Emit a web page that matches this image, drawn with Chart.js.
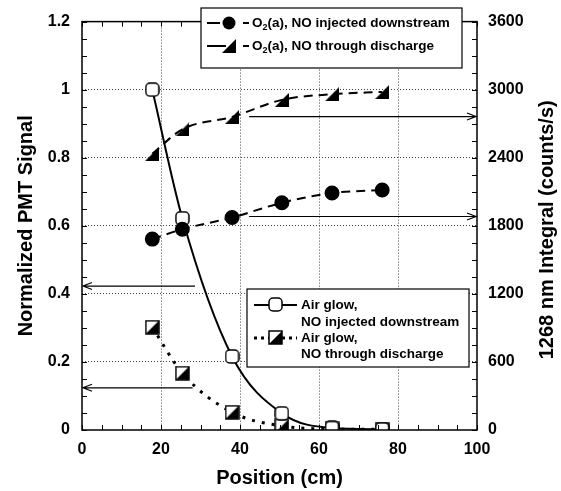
<!DOCTYPE html>
<html>
<head>
<meta charset="utf-8">
<script src="https://cdn.jsdelivr.net/npm/chart.js@4.4.0/dist/chart.umd.min.js"></script>
<style>
  html, body { margin: 0; padding: 0; background: #fff; }
</style>
</head>
<body>
<canvas id="c" width="561" height="491"></canvas>
<script>
// data
const positions = [17.8, 25.4, 38, 50.6, 63.3, 76];
const o2Injected = [1683, 1770, 1873, 2003, 2089, 2115];      // counts/s, right axis
const o2Discharge = [2435, 2650, 2760, 2910, 2960, 2980];     // counts/s, right axis
const airInjected = [1.0, 0.622, 0.216, 0.049, 0.006, 0.002]; // normalized, left axis
const airDischarge = [0.302, 0.167, 0.052, 0.012, 0.003, 0.002];

// arrows pointing at the axis each curve belongs to
const leftArrowY = [0.423, 0.124];
const leftArrowFrom = [28.6, 28];
const rightArrowY = [2763, 1882];
const rightArrowFrom = [42.3, 42.3];

const FONT = "'Liberation Sans', Arial, sans-serif";

// marker images
function halfSquare(s) {
  const c = document.createElement('canvas');
  c.width = c.height = s;
  const g = c.getContext('2d');
  g.fillStyle = '#fff';
  g.fillRect(1, 1, s - 2, s - 2);
  g.fillStyle = '#000';
  g.beginPath();
  g.moveTo(s - 1, 1); g.lineTo(s - 1, s - 1); g.lineTo(1, s - 1);
  g.closePath(); g.fill();
  g.strokeStyle = '#000'; g.lineWidth = 1.5;
  g.strokeRect(1, 1, s - 2, s - 2);
  return c;
}
function openSquare(s) {
  const c = document.createElement('canvas');
  c.width = c.height = s;
  const g = c.getContext('2d');
  g.fillStyle = '#fff';
  g.strokeStyle = '#000'; g.lineWidth = 1.5;
  g.beginPath();
  g.roundRect(1, 1, s - 2, s - 2, 4);
  g.fill(); g.stroke();
  return c;
}
function triangle(s) {
  const c = document.createElement('canvas');
  c.width = c.height = s;
  const g = c.getContext('2d');
  g.fillStyle = '#000';
  g.beginPath();
  g.moveTo(0, s); g.lineTo(s, s); g.lineTo(s, 0);
  g.closePath(); g.fill();
  return c;
}
const halfSq = halfSquare(15);
const openSq = openSquare(15);
const tri = triangle(14);

function xy(ys) { return positions.map((p, i) => ({ x: p, y: ys[i] })); }

function richText(ctx, parts, x, y, size) {
  parts.forEach(p => {
    if (p.sub) {
      ctx.font = 'bold ' + Math.round(size * 0.7) + 'px ' + FONT;
      ctx.fillText(p.t, x, y + size * 0.3);
    } else {
      ctx.font = 'bold ' + size + 'px ' + FONT;
      ctx.fillText(p.t, x, y);
    }
    x += ctx.measureText(p.t).width;
  });
}

function arrow(ctx, x1, y1, x2, y2) {
  const dir = Math.sign(x2 - x1);
  ctx.beginPath();
  ctx.moveTo(x1, y1); ctx.lineTo(x2, y2);
  ctx.moveTo(x2 - dir * 9, y2 - 3.5); ctx.lineTo(x2, y2); ctx.lineTo(x2 - dir * 9, y2 + 3.5);
  ctx.stroke();
}

const decor = {
  id: 'decor',
  afterDatasetsDraw(chart) {
    const { ctx, scales: { x, y, y1 } } = chart;
    ctx.save();
    ctx.strokeStyle = '#000';
    ctx.lineWidth = 1.2;
    leftArrowY.forEach((v, i) => {
      const py = y.getPixelForValue(v);
      arrow(ctx, x.getPixelForValue(leftArrowFrom[i]), py, x.getPixelForValue(0) + 1, py);
    });
    rightArrowY.forEach((v, i) => {
      const py = y1.getPixelForValue(v);
      arrow(ctx, x.getPixelForValue(rightArrowFrom[i]), py, x.getPixelForValue(100) - 1, py);
    });
    ctx.restore();
  },
  afterDraw(chart) {
    const { ctx, chartArea: a, scales: { x, y, y1 } } = chart;
    ctx.save();
    ctx.strokeStyle = '#000';
    ctx.lineWidth = 1;
    // inward tick marks
    ctx.beginPath();
    x.ticks.forEach(t => {
      const px = Math.round(x.getPixelForValue(t.value)) + 0.5;
      ctx.moveTo(px, a.bottom); ctx.lineTo(px, a.bottom - 5);
      ctx.moveTo(px, a.top); ctx.lineTo(px, a.top + 5);
    });
    y.ticks.forEach(t => {
      const py = Math.round(y.getPixelForValue(t.value)) + 0.5;
      ctx.moveTo(a.left, py); ctx.lineTo(a.left + 5, py);
    });
    y1.ticks.forEach(t => {
      const py = Math.round(y1.getPixelForValue(t.value)) + 0.5;
      ctx.moveTo(a.right, py); ctx.lineTo(a.right - 5, py);
    });
    ctx.stroke();
    // frame
    ctx.lineWidth = 1.5;
    ctx.strokeRect(a.left, a.top, a.right - a.left, a.bottom - a.top);

    // right axis title, reading bottom to top like the left one
    ctx.save();
    ctx.translate(547, (a.top + a.bottom) / 2 + 4);
    ctx.rotate(-Math.PI / 2);
    ctx.fillStyle = '#000';
    ctx.font = 'bold 20px ' + FONT;
    ctx.textAlign = 'center';
    ctx.textBaseline = 'middle';
    ctx.fillText('1268 nm Integral (counts/s)', 0, 0);
    ctx.restore();

    // top legend
    ctx.fillStyle = '#fff';
    ctx.lineWidth = 1.2;
    ctx.fillRect(201, 8, 261, 60);
    ctx.strokeRect(201, 8, 261, 60);
    ctx.lineWidth = 2;
    ctx.beginPath();
    ctx.moveTo(207, 23); ctx.lineTo(220, 23);
    ctx.moveTo(243, 23); ctx.lineTo(249, 23);
    ctx.moveTo(207, 46); ctx.lineTo(226, 46);
    ctx.moveTo(243, 46); ctx.lineTo(249, 46);
    ctx.stroke();
    ctx.fillStyle = '#000';
    ctx.beginPath(); ctx.arc(229, 23, 6.5, 0, Math.PI * 2); ctx.fill();
    ctx.drawImage(tri, 222, 39);
    ctx.textBaseline = 'middle';
    richText(ctx, [{ t: 'O' }, { t: '2', sub: true }, { t: '(a), NO injected downstream' }], 252, 23, 13.5);
    richText(ctx, [{ t: 'O' }, { t: '2', sub: true }, { t: '(a), NO through discharge' }], 252, 46, 13.5);

    // bottom legend
    ctx.fillStyle = '#fff';
    ctx.lineWidth = 1.2;
    ctx.fillRect(247, 289, 222, 78);
    ctx.strokeRect(247, 289, 222, 78);
    ctx.lineWidth = 2;
    ctx.beginPath(); ctx.moveTo(254, 305); ctx.lineTo(297, 305); ctx.stroke();
    ctx.lineWidth = 3;
    ctx.setLineDash([3, 4]);
    ctx.beginPath(); ctx.moveTo(254, 338); ctx.lineTo(297, 338); ctx.stroke();
    ctx.setLineDash([]);
    ctx.drawImage(openSq, 268, 297);
    ctx.drawImage(halfSq, 268, 330);
    ctx.fillStyle = '#000';
    ctx.font = 'bold 13.5px ' + FONT;
    ctx.fillText('Air glow,', 301, 305);
    ctx.fillText('NO injected downstream', 301, 322);
    ctx.fillText('Air glow,', 301, 338);
    ctx.fillText('NO through discharge', 301, 354);
    ctx.restore();
  }
};

const tickFont = { family: FONT, size: 16, weight: 'bold' };
const titleFont = { family: FONT, size: 20, weight: 'bold' };
const gridDash = [1, 2];

new Chart(document.getElementById('c'), {
  type: 'line',
  data: {
    datasets: [
      {
        label: 'O2(a), NO injected downstream',
        data: xy(o2Injected), yAxisID: 'y1',
        borderColor: '#000', borderWidth: 2, borderDash: [9, 6],
        cubicInterpolationMode: 'monotone',
        pointStyle: 'circle', pointRadius: 6.5,
        pointBackgroundColor: '#000', pointBorderColor: '#000'
      },
      {
        label: 'O2(a), NO through discharge',
        data: xy(o2Discharge), yAxisID: 'y1',
        borderColor: '#000', borderWidth: 2, borderDash: [9, 6],
        cubicInterpolationMode: 'monotone',
        pointStyle: tri, pointRadius: 7
      },
      {
        label: 'Air glow, NO injected downstream',
        data: xy(airInjected), yAxisID: 'y',
        borderColor: '#000', borderWidth: 2,
        cubicInterpolationMode: 'monotone',
        pointStyle: openSq, pointRadius: 7
      },
      {
        label: 'Air glow, NO through discharge',
        data: xy(airDischarge), yAxisID: 'y',
        borderColor: '#000', borderWidth: 3, borderDash: [3, 7],
        cubicInterpolationMode: 'monotone',
        pointStyle: halfSq, pointRadius: 7
      }
    ]
  },
  options: {
    responsive: false,
    animation: false,
    layout: { padding: { top: 13, left: 0, right: 0, bottom: 0 } },
    plugins: { legend: { display: false }, tooltip: { enabled: false } },
    scales: {
      x: {
        type: 'linear', min: 0, max: 100,
        afterFit: s => { s.height = 61; },
        ticks: {
          stepSize: 5, autoSkip: false, maxRotation: 0, padding: 10,
          color: '#000', font: tickFont,
          callback: v => (v % 20 === 0 ? String(v) : '')
        },
        grid: {
          drawTicks: false, lineWidth: 1,
          color: c => (c.tick && c.tick.value % 20 === 0 && c.tick.value > 0 && c.tick.value < 100 ? '#444' : 'rgba(0,0,0,0)')
        },
        border: { display: false, dash: gridDash },
        title: { display: true, text: 'Position (cm)', color: '#000', font: titleFont, padding: { top: 0, bottom: 1 } }
      },
      y: {
        type: 'linear', position: 'left', min: 0, max: 1.2,
        afterFit: s => { s.width = 82; },
        ticks: {
          stepSize: 0.05, autoSkip: false, padding: 12,
          color: '#000', font: tickFont,
          callback: v => { const r = Math.round(v * 100); return r % 20 === 0 ? String(r / 100) : ''; }
        },
        grid: {
          drawTicks: false, lineWidth: 1,
          color: c => {
            if (!c.tick) return 'rgba(0,0,0,0)';
            const r = Math.round(c.tick.value * 100);
            return r % 20 === 0 && r > 0 && r < 120 ? '#444' : 'rgba(0,0,0,0)';
          }
        },
        border: { display: false, dash: gridDash },
        title: { display: true, text: 'Normalized PMT Signal', color: '#000', font: titleFont, padding: { top: 14, bottom: 0 } }
      },
      y1: {
        type: 'linear', position: 'right', min: 0, max: 3600,
        afterFit: s => { s.width = 84; },
        ticks: {
          stepSize: 150, autoSkip: false, padding: 11,
          color: '#000', font: tickFont,
          callback: v => (v % 600 === 0 ? String(v) : '')
        },
        grid: { display: false, drawTicks: false },
        border: { display: false }
      }
    }
  },
  plugins: [decor]
});
</script>
</body>
</html>
